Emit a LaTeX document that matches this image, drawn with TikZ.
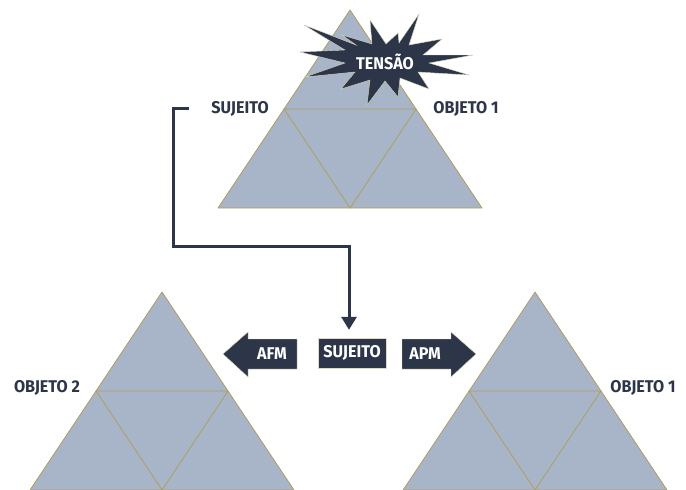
\documentclass[tikz,border=0pt]{standalone}
\usepackage{fontspec}
\setmainfont{Fira Sans}[FakeStretch=0.95]
\usetikzlibrary{arrows.meta}
\definecolor{navy}{HTML}{2C3648}
\definecolor{slate}{HTML}{A8B4C7}
\definecolor{khaki}{HTML}{AE9F5C}

\begin{document}
\begin{tikzpicture}[x=1pt,y=-1pt,
   pyr/.style={fill=slate,draw=khaki,line width=0.7pt,line join=round},
   seam/.style={draw=khaki,line width=0.8pt},
   lbl/.style={text=navy,font=\fontsize{17}{18}\bfseries,inner sep=0pt},
   tag/.style={text=white,font=\fontsize{17}{18}\bfseries,inner sep=0pt},
   blk/.style={fill=navy,draw=khaki!40,line width=0.4pt},
   link/.style={draw=navy,line width=3pt,
      -{Triangle[width=15pt,length=13pt]}}]
\useasboundingbox (0,0) rectangle (686,490);
% the three pyramids
\foreach \ax/\ay in {350/10,162/292,535/292}
{
  \draw[pyr] (\ax,\ay) -- ++(-132,198) -- ++(264,0) -- cycle;
  \draw[seam] (\ax-66,\ay+99) -- (\ax+66,\ay+99) -- (\ax,\ay+198) -- cycle;
}
% tension burst
\fill[navy,draw=khaki!40,line width=0.4pt]
  (473,55) -- (429,63) -- (469,75) -- (418,72) -- (429,89) -- (400,78)
  -- (398,97) -- (385,81) -- (367,105) -- (370,80) -- (341,89) -- (355,72)
  -- (305,77) -- (345,63) -- (300,52) -- (345,50) -- (304,25) -- (356,45)
  -- (342,35) -- (372,44) -- (370,20) -- (386,44) -- (398,33) -- (399,43)
  -- (419,14) -- (409,45) -- (442,39) -- (423,55) -- cycle;
\node[tag] (tensao) at (385,62) {TENSÃO};
% labels
\node[lbl] (sujtop) at (240,109) {SUJEITO};
\node[lbl] (obj1top) at (466,109) {OBJETO 1};
\node[lbl] (obj2) at (47,388) {OBJETO 2};
\node[lbl] (obj1) at (643,388) {OBJETO 1};
% middle row
\node[tag,fill=navy,draw=khaki!40,line width=0.4pt,
  minimum width=68pt,minimum height=30pt] (suj) at (352,353) {SUJEITO};
\draw[blk] (297,339) -- (248,339) -- (248,332) -- (223,354) -- (248,377)
  -- (248,369) -- (297,369) -- cycle;
\node[tag] (afm) at (272,354) {AFM};
\draw[blk] (402,339) -- (451,339) -- (451,332) -- (476,354) -- (451,377)
  -- (451,369) -- (402,369) -- cycle;
\node[tag] (apm) at (425,354) {APM};
% connector
\coordinate (start) at (189,108);
\draw[link] (start) -- (173,108) -- (173,246) -- (349,246)
  -- ([yshift=8pt]suj.north -| 349,0);
\end{tikzpicture}
\end{document}
